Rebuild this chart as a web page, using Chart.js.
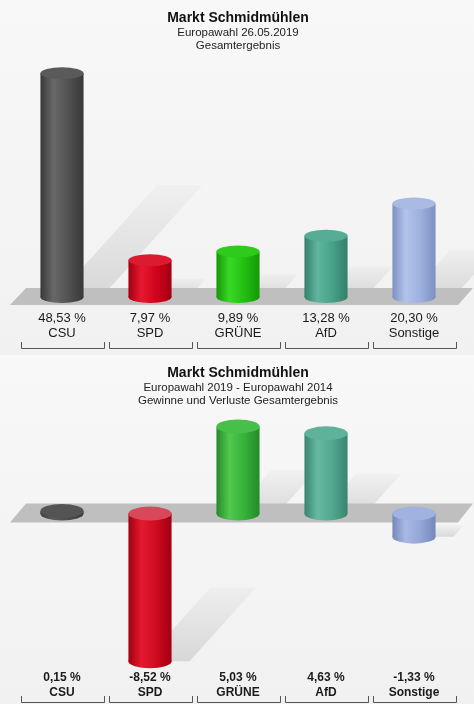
<!DOCTYPE html>
<html>
<head>
<meta charset="utf-8">
<script src="https://cdn.jsdelivr.net/npm/chart.js@4.4.0/dist/chart.umd.min.js"></script>
<style>
    html, body { margin: 0; padding: 0; background: #fff; }
    .box { position: relative; width: 474px; }
    #topBox { height: 355px; }
    #bottomBox { height: 349px; }
    canvas { display: block; }
</style>
</head>
<body>
<div class="box" id="topBox"><canvas id="resultChart"></canvas></div>
<div class="box" id="bottomBox"><canvas id="diffChart"></canvas></div>
<script>
// Parteien
const parties = ['CSU', 'SPD', 'GRÜNE', 'AfD', 'Sonstige'];
// Europawahl 26.05.2019, Anteil in %
const result2019 = [48.53, 7.97, 9.89, 13.28, 20.30];
// Gewinne und Verluste 2019 - 2014, Prozentpunkte
const diff2019vs2014 = [0.15, -8.52, 5.03, 4.63, -1.33];

const FONT = '"Liberation Sans", Arial, Helvetica, sans-serif';
const BAR_PCT = 0.49;

// light, mid, dark = body shading; cap = top ellipse
const topPalette = [
    { light: '#686868', mid: '#515151', dark: '#383838', cap: '#5a5a5a' },
    { light: '#e8182f', mid: '#d0021b', dark: '#a20012', cap: '#dc1a30' },
    { light: '#3ad826', mid: '#22bf10', dark: '#149808', cap: '#2ecb1c' },
    { light: '#5fb59d', mid: '#47a189', dark: '#347f6b', cap: '#56ac94' },
    { light: '#b2c3ea', mid: '#9db1de', dark: '#7c91c2', cap: '#a9bae3' }
];
const bottomPalette = [
    { light: '#5c5c5c', mid: '#4c4c4c', dark: '#3a3a3a', cap: '#545454' },
    { light: '#e5192f', mid: '#cf0a1f', dark: '#a10012', cap: '#d9485a' },
    { light: '#52c84e', mid: '#35b23a', dark: '#248a2a', cap: '#47bf49' },
    { light: '#66b9a0', mid: '#50a88f', dark: '#3a846f', cap: '#5db299' },
    { light: '#a9b9e4', mid: '#93a6d8', dark: '#7487bb', cap: '#a0b2df' }
];

const fmt = v => v.toFixed(2).replace('.', ',') + ' %';

function bodyGradient(ctx, cx, half, pal) {
    if (!Number.isFinite(cx) || !Number.isFinite(half) || half <= 0) return pal.mid;
    const g = ctx.createLinearGradient(cx - half, 0, cx + half, 0);
    g.addColorStop(0, pal.dark);
    g.addColorStop(0.3, pal.light);
    g.addColorStop(0.65, pal.mid);
    g.addColorStop(1, pal.dark);
    return g;
}

function ellipse(ctx, cx, cy, rx, ry, fill) {
    ctx.beginPath();
    ctx.ellipse(cx, cy, rx, ry, 0, 0, Math.PI * 2);
    ctx.fillStyle = fill;
    ctx.fill();
}

// draws background, floor band, diagonal shadows, cylinder ends and brackets
const cylinderPlugin = {
    id: 'cylinders',
    beforeDraw(chart) {
        const { ctx, width, height } = chart;
        const g = ctx.createLinearGradient(0, 0, 0, height);
        g.addColorStop(0, '#f8f8f8');
        g.addColorStop(1, '#f1f1f1');
        ctx.save();
        ctx.fillStyle = g;
        ctx.fillRect(0, 0, width, height);
        ctx.restore();
    },
    beforeDatasetsDraw(chart, args, opts) {
        const { ctx, chartArea } = chart;
        const zero = chart.scales.y.getPixelForValue(0);
        const bars = chart.getDatasetMeta(0).data;
        ctx.save();

        // shadows cast up to the right
        bars.forEach(el => {
            const h = Math.abs(el.base - el.y);
            if (!(h >= 4)) return;
            const y0 = Math.max(el.base, el.y);
            const L = h * 0.5;
            const dx = L * 0.9;
            const g = ctx.createLinearGradient(0, y0, 0, y0 - L);
            g.addColorStop(0, 'rgba(0,0,0,0.11)');
            g.addColorStop(1, 'rgba(0,0,0,0.02)');
            ctx.beginPath();
            ctx.moveTo(el.x - 6, y0);
            ctx.lineTo(el.x + el.width / 2 + 18, y0);
            ctx.lineTo(el.x + el.width / 2 + 18 + dx, y0 - L);
            ctx.lineTo(el.x - 6 + dx, y0 - L);
            ctx.closePath();
            ctx.fillStyle = g;
            ctx.fill();
        });

        // floor band
        ctx.beginPath();
        ctx.moveTo(chartArea.left - 8, zero + opts.bandBottom);
        ctx.lineTo(chartArea.left + 8, zero - opts.bandTop);
        ctx.lineTo(chartArea.right + 15, zero - opts.bandTop);
        ctx.lineTo(chartArea.right, zero + opts.bandBottom);
        ctx.closePath();
        ctx.fillStyle = '#bfbfbf';
        ctx.fill();

        // rounded far end of each cylinder
        bars.forEach((el, i) => {
            const pal = opts.palette[i];
            const half = el.width / 2;
            const yFar = Math.max(el.base, el.y);
            ellipse(ctx, el.x, yFar, half, opts.ry, bodyGradient(ctx, el.x, half, pal));
        });
        ctx.restore();
    },
    afterDatasetsDraw(chart, args, opts) {
        const { ctx } = chart;
        const bars = chart.getDatasetMeta(0).data;
        ctx.save();
        bars.forEach((el, i) => {
            const pal = opts.palette[i];
            const half = el.width / 2;
            const yNear = Math.min(el.base, el.y);
            ellipse(ctx, el.x, yNear, half, opts.ry, pal.cap);
        });
        ctx.restore();
    },
    afterDraw(chart, args, opts) {
        const { ctx } = chart;
        const x = chart.scales.x;
        const step = x.width / parties.length;
        const y = opts.bracketY;
        ctx.save();
        ctx.strokeStyle = '#555';
        ctx.lineWidth = 1;
        parties.forEach((p, i) => {
            const cx = x.getPixelForValue(i);
            const l = Math.round(cx - step / 2 + 3) + 0.5;
            const r = Math.round(cx + step / 2 - 2) + 0.5;
            ctx.beginPath();
            ctx.moveTo(l, y - 6);
            ctx.lineTo(l, y + 0.5);
            ctx.lineTo(r, y + 0.5);
            ctx.lineTo(r, y - 6);
            ctx.stroke();
        });
        ctx.restore();
    }
};

function buildChart(canvasId, values, palette, setup) {
    return new Chart(document.getElementById(canvasId), {
        type: 'bar',
        data: {
            labels: parties,
            datasets: [{
                data: values,
                barPercentage: BAR_PCT,
                categoryPercentage: 1,
                borderWidth: 0,
                backgroundColor: c => {
                    const pal = palette[c.dataIndex] || palette[0];
                    const x = c.chart.scales.x;
                    if (c.type !== 'data' || !x) return pal.mid;
                    const cx = x.getPixelForValue(c.dataIndex);
                    const half = x.width / parties.length * BAR_PCT / 2;
                    return bodyGradient(c.chart.ctx, cx, half, pal);
                }
            }]
        },
        options: {
            responsive: true,
            maintainAspectRatio: false,
            animation: false,
            layout: { padding: { left: 18, right: 16, top: 0, bottom: setup.bottomPad } },
            scales: {
                x: {
                    grid: { display: false, drawTicks: false },
                    border: { display: false },
                    ticks: {
                        padding: setup.tickPad,
                        color: '#1a1a1a',
                        font: setup.tickFont,
                        maxRotation: 0,
                        autoSkip: false,
                        callback: (v, i) => [fmt(values[i]), parties[i]]
                    }
                },
                y: { display: false, min: setup.min, max: setup.max }
            },
            plugins: {
                legend: { display: false },
                tooltip: { enabled: false },
                title: {
                    display: true,
                    text: 'Markt Schmidmühlen',
                    color: '#111',
                    font: { family: FONT, size: 14, weight: 'bold', lineHeight: 1.2 },
                    padding: { top: 9.6, bottom: 0 }
                },
                subtitle: {
                    display: true,
                    text: setup.subtitle,
                    color: '#222',
                    font: { family: FONT, size: 11.5, lineHeight: 1.13 },
                    padding: { top: 0, bottom: setup.subPad }
                },
                cylinders: {
                    palette: palette,
                    ry: setup.ry,
                    bandTop: setup.bandTop,
                    bandBottom: setup.bandBottom,
                    bracketY: setup.bracketY
                }
            }
        },
        plugins: [cylinderPlugin]
    });
}

buildChart('resultChart', result2019, topPalette, {
    subtitle: ['Europawahl 26.05.2019', 'Gesamtergebnis'],
    min: 0, max: 51.5,
    subPad: 7.2,
    tickPad: 13.5,
    tickFont: { family: FONT, size: 13, lineHeight: 1.15 },
    bottomPad: 1,
    ry: 6, bandTop: 9, bandBottom: 8,
    bracketY: 348
});

buildChart('diffChart', diff2019vs2014, bottomPalette, {
    subtitle: ['Europawahl 2019 - Europawahl 2014', 'Gewinne und Verluste Gesamtergebnis'],
    min: -9, max: 6,
    subPad: 2.2,
    tickPad: 0,
    tickFont: { family: FONT, size: 12, weight: 'bold', lineHeight: 1.3 },
    bottomPad: 3.2,
    ry: 7, bandTop: 10, bandBottom: 9,
    bracketY: 347
});
</script>
</body>
</html>
